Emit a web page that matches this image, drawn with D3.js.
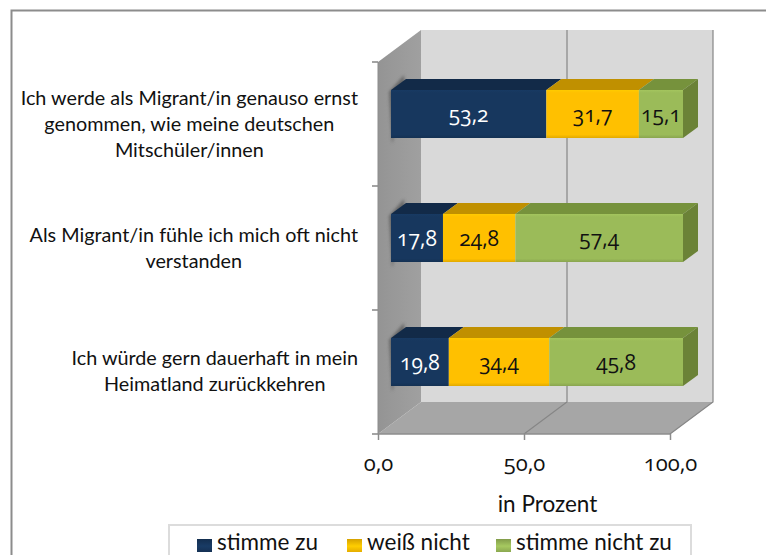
<!DOCTYPE html>
<html lang="de">
<head>
<meta charset="utf-8">
<script src="https://cdn.jsdelivr.net/npm/d3@7"></script>
<style>
  html, body { margin: 0; padding: 0; background: #fff; overflow: hidden; }
  svg { display: block; }
  text { font-family: Lato, sans-serif; fill: #111; }
  .num { font-family: "Open Sans", sans-serif; font-feature-settings: "onum" 1; font-variant-numeric: oldstyle-nums; }
</style>
</head>
<body>
<div id="chart"></div>
<script>
// Data
const categories = [
  ["Ich werde als Migrant/in genauso ernst", "genommen, wie meine deutschen", "Mitschüler/innen"],
  ["Als Migrant/in fühle ich mich oft nicht", "verstanden"],
  ["Ich würde gern dauerhaft in mein", "Heimatland zurückkehren"]
];
const seriesNames = ["stimme zu", "weiß nicht", "stimme nicht zu"];
const stimmeZu = [53.2, 17.8, 19.8];
const weissNicht = [31.7, 24.8, 34.4];
const stimmeNichtZu = [15.1, 57.4, 45.8];
const xTicks = [0, 50, 100];
const axisTitle = "in Prozent";

const svgWidth = 766;
const svgHeight = 555;

// front plane of the fake 3D box
const plot = { left: 378, right: 670, top: 62, bottom: 434 };
const wall = { dx: 43, dy: -32 };          // box depth
const barShift = { dx: 13, dy: -10 };      // bar sits a bit inside the box
const barDepth = { dx: 15, dy: -11 };
const barHeight = 48;

const colors = ["#17375e", "#ffc000", "#9bbb59"];
const topColors = ["#122a48", "#c09000", "#76923c"];
const labelColors = ["#fff", "#111", "#111"];
const allSeries = [stimmeZu, weissNicht, stimmeNichtZu];

const comma = v => d3.format(".1f")(v).replace(".", ",");
const pts = a => a.map(p => p.join(",")).join(" ");

const svg = d3.select("#chart")
  .append("svg")
  .attr("width", svgWidth)
  .attr("height", svgHeight);

const defs = svg.append("defs");

// side wall and bar gradients
const sideGrad = defs.append("linearGradient").attr("id", "sideWall")
  .attr("x1", 0).attr("x2", 1).attr("y1", 0).attr("y2", 0);
sideGrad.append("stop").attr("offset", "0%").attr("stop-color", "#949494");
sideGrad.append("stop").attr("offset", "100%").attr("stop-color", "#a0a0a0");

colors.forEach((c, i) => {
  const g = defs.append("linearGradient").attr("id", `front${i}`)
    .attr("x1", 0).attr("x2", 0).attr("y1", 0).attr("y2", 1);
  g.append("stop").attr("offset", "0%").attr("stop-color", d3.color(c).brighter(0.15));
  g.append("stop").attr("offset", "6%").attr("stop-color", c);
  g.append("stop").attr("offset", "93%").attr("stop-color", c);
  g.append("stop").attr("offset", "100%").attr("stop-color", d3.color(c).darker(0.35));

  const s = defs.append("linearGradient").attr("id", `swatch${i}`)
    .attr("x1", 0).attr("x2", 0).attr("y1", 0).attr("y2", 1);
  s.append("stop").attr("offset", "0%").attr("stop-color", d3.color(c).darker(0.5));
  s.append("stop").attr("offset", "55%").attr("stop-color", d3.color(c).brighter(0.2));
  s.append("stop").attr("offset", "100%").attr("stop-color", d3.color(c).darker(0.3));
});

defs.append("filter").attr("id", "soft")
  .attr("x", "-30%").attr("y", "-30%").attr("width", "160%").attr("height", "160%")
  .append("feGaussianBlur").attr("stdDeviation", 1.5);

// outer frame, the right and bottom edges are cut off in the picture
svg.append("path")
  .attr("d", `M11.5,${svgHeight}V10.5H${svgWidth}`)
  .attr("fill", "none")
  .attr("stroke", "#8c8c8c")
  .attr("stroke-width", 2);

// scales
const xLinearScale = d3.scaleLinear().domain([0, 100]).range([plot.left, plot.right]);
const yBandScale = d3.scaleBand().domain(d3.range(categories.length)).range([plot.top, plot.bottom]);

// box: back wall, side wall, floor
svg.append("polygon")
  .attr("points", pts([[plot.left + wall.dx, plot.top + wall.dy], [plot.right + wall.dx, plot.top + wall.dy],
    [plot.right + wall.dx, plot.bottom + wall.dy], [plot.left + wall.dx, plot.bottom + wall.dy]]))
  .attr("fill", "#d9d9d9");

svg.append("polygon")
  .attr("points", pts([[plot.left, plot.bottom], [plot.right, plot.bottom],
    [plot.right + wall.dx, plot.bottom + wall.dy], [plot.left + wall.dx, plot.bottom + wall.dy]]))
  .attr("fill", "#a6a6a6");

svg.append("polygon")
  .attr("points", pts([[plot.left, plot.top], [plot.left + wall.dx, plot.top + wall.dy],
    [plot.left + wall.dx, plot.bottom + wall.dy], [plot.left, plot.bottom]]))
  .attr("fill", "url(#sideWall)");

// gridlines run over the floor and up the back wall
xTicks.slice(1).forEach(t => {
  const x = xLinearScale(t);
  svg.append("polyline")
    .attr("points", pts([[x, plot.bottom], [x + wall.dx, plot.bottom + wall.dy], [x + wall.dx, plot.top + wall.dy]]))
    .attr("fill", "none")
    .attr("stroke", "#868686")
    .attr("stroke-width", 1.2);
});

// category ticks on the left edge
d3.range(categories.length + 1).forEach(i => {
  const y = plot.top + i * yBandScale.step();
  svg.append("line")
    .attr("x1", plot.left - 6).attr("x2", plot.left)
    .attr("y1", y).attr("y2", y)
    .attr("stroke", "#868686")
    .attr("stroke-width", 1.5);
});
svg.append("line")
  .attr("x1", plot.left).attr("x2", plot.left)
  .attr("y1", plot.top).attr("y2", plot.bottom)
  .attr("stroke", "#8c8c8c");

// bottom axis
const xAxis = svg.append("g")
  .attr("transform", `translate(0, ${plot.bottom})`)
  .call(d3.axisBottom(xLinearScale).tickValues(xTicks).tickFormat(comma).tickSize(6).tickPadding(15));
xAxis.selectAll("path, line").attr("stroke", "#8c8c8c").attr("stroke-width", 1.5);
xAxis.select(".domain").attr("d", `M${plot.left},0H${plot.right}`);
xAxis.selectAll("text").attr("class", "num").attr("font-size", 22);

// bars
categories.forEach((cat, row) => {
  const y0 = yBandScale(row) + yBandScale.bandwidth() / 2 + barShift.dy - barHeight / 2;
  const xBar = v => xLinearScale(v) + barShift.dx;
  const g = svg.append("g");

  // shadow where the bar meets the side wall
  g.append("polygon")
    .attr("points", pts([[xBar(0) + 1, y0 + barHeight + 6], [xBar(0) - 2, y0 + 2], [xBar(0) + 13, y0 - 15], [xBar(0) + 14, y0]]))
    .attr("fill", "#555")
    .attr("opacity", 0.75)
    .attr("filter", "url(#soft)");

  let cum = 0;
  allSeries.forEach((values, i) => {
    const v = values[row];
    const x1 = xBar(cum);
    const x2 = xBar(cum + v);
    cum += v;

    // top face
    g.append("polygon")
      .attr("points", pts([[x1, y0], [x1 + barDepth.dx, y0 + barDepth.dy], [x2 + barDepth.dx, y0 + barDepth.dy], [x2, y0]]))
      .attr("fill", topColors[i]);

    // right face only on the last segment
    if (i === allSeries.length - 1) {
      g.append("polygon")
        .attr("points", pts([[x2, y0], [x2 + barDepth.dx, y0 + barDepth.dy],
          [x2 + barDepth.dx, y0 + barHeight + barDepth.dy], [x2, y0 + barHeight]]))
        .attr("fill", "#6b8237");
    }

    g.append("rect")
      .attr("x", x1)
      .attr("y", y0)
      .attr("width", x2 - x1)
      .attr("height", barHeight)
      .attr("fill", `url(#front${i})`);

    g.append("text")
      .attr("class", "num")
      .attr("x", (x1 + x2) / 2)
      .attr("y", y0 + barHeight / 2 + 8)
      .attr("text-anchor", "middle")
      .attr("font-size", 21)
      .style("fill", labelColors[i])
      .text(comma(v));
  });
});

// category labels: lines centred on each other, block right edge at 358
const labelRight = 358;
const lineHeight = 26;
const labelFirstBase = [105, 242, 365];
categories.forEach((lines, row) => {
  const t = svg.append("g");
  const texts = lines.map((line, i) => t.append("text")
    .attr("y", labelFirstBase[row] + i * lineHeight)
    .attr("text-anchor", "middle")
    .attr("font-size", 19.8)
    .text(line));
  const maxW = d3.max(texts, s => s.node().getComputedTextLength());
  texts.forEach(s => s.attr("x", labelRight - maxW / 2));
});

// axis title
svg.append("text")
  .attr("x", 547.5)
  .attr("y", 512)
  .attr("text-anchor", "middle")
  .attr("font-size", 22.5)
  .text(axisTitle);

// legend, cut off at the bottom like the picture
svg.append("rect")
  .attr("x", 169)
  .attr("y", 525)
  .attr("width", 522)
  .attr("height", 60)
  .attr("fill", "#fff")
  .attr("stroke", "#dcdcdc")
  .attr("stroke-width", 2);

const legendX = [197, 347, 496];
seriesNames.forEach((name, i) => {
  svg.append("rect")
    .attr("x", legendX[i])
    .attr("y", 539)
    .attr("width", 15)
    .attr("height", 13)
    .attr("fill", `url(#swatch${i})`);
  svg.append("text")
    .attr("x", legendX[i] + 20)
    .attr("y", 550)
    .attr("font-size", 22.5)
    .text(name);
});
</script>
</body>
</html>
